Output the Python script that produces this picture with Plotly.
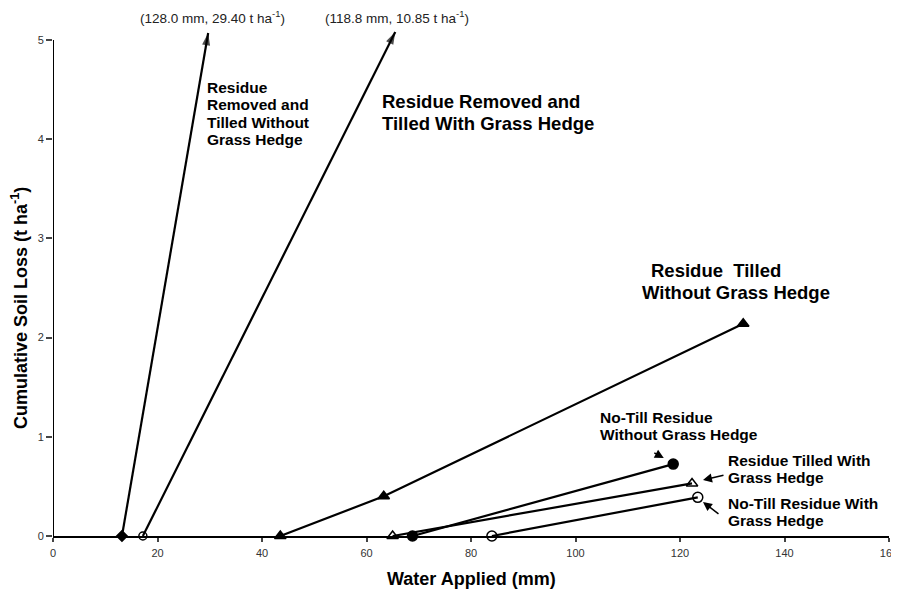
import plotly.graph_objects as go

# ---- data ----
# Residue Removed and Tilled Without Grass Hedge (continues off-scale to 128.0 mm, 29.40 t/ha)
rrw_x = [13.2, 29.7]
rrw_y = [0.0, 5.07]
# Residue Removed and Tilled With Grass Hedge (continues off-scale to 118.8 mm, 10.85 t/ha)
rrg_x = [17.2, 65.5]
rrg_y = [0.0, 5.08]
# Residue Tilled Without Grass Hedge
rtw_x = [43.5, 63.3, 132.1]
rtw_y = [0.0, 0.40, 2.14]
# No-Till Residue Without Grass Hedge
ntw_x = [68.8, 118.7]
ntw_y = [0.0, 0.725]
# Residue Tilled With Grass Hedge
rtg_x = [65.0, 122.3]
rtg_y = [0.0, 0.53]
# No-Till Residue With Grass Hedge
ntg_x = [84.0, 123.4]
ntg_y = [0.0, 0.39]

x_ticks = [0, 20, 40, 60, 80, 100, 120, 140, 160]
y_ticks = [0, 1, 2, 3, 4, 5]

FONT = "Liberation Sans, Arial, Helvetica, sans-serif"
LW = 2.2

# layout geometry (page body has an 8px default margin, so the figure is 8px smaller)
OFF = 8
W, H = 899 - OFF, 590 - OFF
PL, PR, PT, PB = 53, 889, 31, 536     # plot-area edges in window pixels
L, R, T, B = PL - OFF, W + OFF - PR, PT - OFF, H + OFF - PB
Y_TOP = 5.09
plot_w, plot_h = PR - PL, PB - PT

def py2d(py):
    """window pixel row -> data y (for placing text labels)"""
    return (PB - py) / plot_h * Y_TOP

def px2p(px):
    return (px - PL) / plot_w

def py2p(py):
    return (PB - py) / plot_h

fig = go.Figure()

def series(xs, ys, symbol, size, arrow=False):
    fig.add_trace(go.Scatter(
        x=xs, y=ys, mode="lines", line=dict(color="black", width=LW),
        showlegend=False, hoverinfo="skip"))
    if arrow:
        fig.add_trace(go.Scatter(
            x=xs[:1], y=ys[:1], mode="markers", cliponaxis=False, showlegend=False,
            marker=dict(symbol=symbol, size=size, color="black",
                        line=dict(color="black", width=1.5))))
        fig.add_trace(go.Scatter(
            x=xs, y=ys, mode="markers", cliponaxis=False, showlegend=False,
            marker=dict(symbol=["circle", "arrow"], size=[0.01, 13], color="black",
                        angleref="previous", line=dict(width=0))))
    else:
        fig.add_trace(go.Scatter(
            x=xs, y=ys, mode="markers", cliponaxis=False, showlegend=False,
            marker=dict(symbol=symbol, size=size, color="black",
                        line=dict(color="black", width=1.5))))

series(rrw_x, rrw_y, "diamond", 8, arrow=True)
series(rrg_x, rrg_y, "circle-open", 8, arrow=True)
series(rtw_x, rtw_y, "triangle-up", 10)
series(ntw_x, ntw_y, "circle", 10)
series(rtg_x, rtg_y, "triangle-up-open", 10)
series(ntg_x, ntg_y, "circle-open", 10)

ann = []
def lines(texts, x, centers, size):
    for t, c in zip(texts, centers):
        ann.append(dict(text="<b>%s</b>" % t, x=x, y=py2d(c), xref="x", yref="y",
                        xanchor="left", yanchor="middle", showarrow=False,
                        font=dict(family=FONT, size=size, color="black")))

# axis titles
ann.append(dict(text="<b>Water Applied (mm)</b>", x=px2p(471), y=py2p(579),
                xref="paper", yref="paper", xanchor="center", yanchor="middle",
                showarrow=False, font=dict(family=FONT, size=18, color="black")))
ann.append(dict(text="<b>Cumulative Soil Loss (t ha<sup>-1</sup>)</b>", x=px2p(19), y=py2p(308),
                xref="paper", yref="paper", xanchor="center", yanchor="middle", textangle=-90,
                showarrow=False, font=dict(family=FONT, size=18, color="black")))

# off-scale end values
for t, xc in [("(128.0 mm, 29.40 t ha<sup>-1</sup>)", 212), ("(118.8 mm, 10.85 t ha<sup>-1</sup>)", 397)]:
    ann.append(dict(text=t, x=px2p(xc), y=py2p(17.5), xref="paper", yref="paper",
                    xanchor="center", yanchor="middle", showarrow=False,
                    font=dict(family=FONT, size=13.5, color="#222")))

lines(["Residue", "Removed and", "Tilled Without", "Grass Hedge"], 29.1, [87, 104.5, 122, 139.5], 15.5)
lines(["Residue Removed and", "Tilled With Grass Hedge"], 62.6, [101, 123], 18.5)
lines(["Residue  Tilled"], 114.0, [270], 18.5)
lines(["Without Grass Hedge"], 112.4, [292], 18.5)
lines(["No-Till Residue", "Without Grass Hedge"], 104.4, [417, 434], 15.5)
lines(["Residue Tilled With", "Grass Hedge"], 128.8, [460, 477], 15.5)
lines(["No-Till Residue With", "Grass Hedge"], 128.8, [503, 520], 15.5)

def pointer(x, py, ax, ay):
    ann.append(dict(text="", x=x, y=py2d(py), xref="x", yref="y", ax=ax, ay=ay,
                    showarrow=True, arrowhead=2, arrowsize=1.2, arrowwidth=1.5,
                    arrowcolor="black"))

pointer(116.9, 458, -11, -6)
pointer(124.4, 480, 22, -5)
pointer(124.4, 502, 17, 13)

fig.update_layout(
    width=W, height=H,
    margin=dict(l=L, r=R, t=T, b=B, autoexpand=False),
    paper_bgcolor="white", plot_bgcolor="white",
    font=dict(family=FONT, color="black"),
    annotations=ann,
    shapes=[dict(type="line", xref="x", yref="y", x0=0, x1=0, y0=0, y1=5,
                 line=dict(color="black", width=2), layer="below")],
    xaxis=dict(range=[0, 160], tickvals=x_ticks, ticks="outside", ticklen=4, tickwidth=1.5,
               showline=True, linecolor="black", linewidth=2, showgrid=False, zeroline=False,
               tickfont=dict(family=FONT, size=11, color="#333"), layer="below traces",
               automargin=False, ticklabelstandoff=2),
    yaxis=dict(range=[0, Y_TOP], tickvals=y_ticks, ticks="outside", ticklen=6, tickwidth=1.5,
               showline=False, showgrid=False, zeroline=False,
               tickfont=dict(family=FONT, size=11, color="#333"), layer="below traces",
               automargin=False),
)

fig.write_html("out.html")
